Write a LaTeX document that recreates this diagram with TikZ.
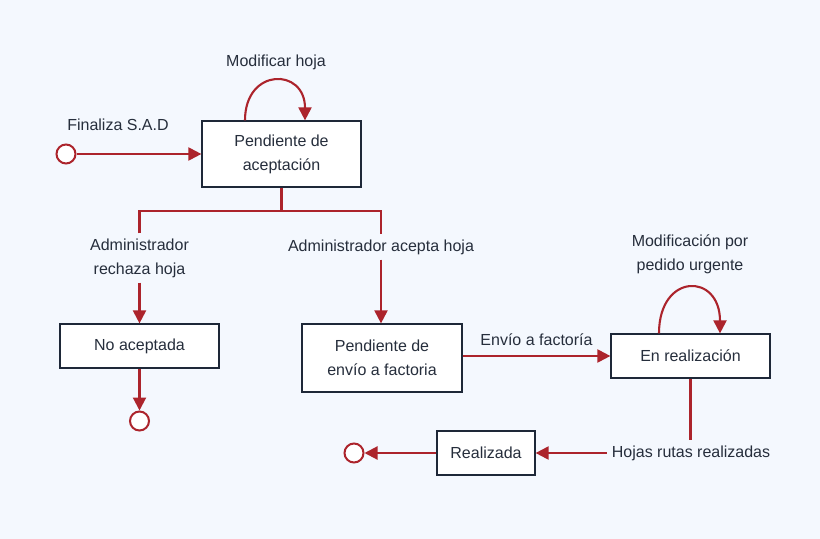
\documentclass[tikz,border=0pt]{standalone}
\usepackage{fontspec}
\setmainfont{Liberation Sans}
\usetikzlibrary{arrows.meta}
\definecolor{flowred}{RGB}{172,36,44}
\definecolor{boxline}{RGB}{30,40,56}
\definecolor{txtcol}{RGB}{38,46,60}
\definecolor{bgcol}{RGB}{244,248,254}
\begin{document}
\begin{tikzpicture}[x=1bp,y=-1bp,
  every node/.style={font=\fontsize{16bp}{24bp}\selectfont,text=txtcol},
  state/.style={draw=boxline,line width=1.2bp,fill=white,minimum width=159bp,
    minimum height=44bp,align=center,inner sep=4bp},
  pseudo/.style={circle,draw=flowred,line width=2bp,fill=white,minimum size=19bp,inner sep=0pt},
  line/.style={draw=flowred,line width=2.1bp},
  flow/.style={line,-{Triangle[length=13bp,width=13bp]}},
  lbl/.style={align=center,inner sep=5bp}]
  % Background
  \fill[bgcol] (0,0) rectangle (820,539);
  \useasboundingbox (0,0) rectangle (820,539);
  % States
  \node[state,minimum height=66bp] (pend) at (281.5,154) {Pendiente de\\aceptación};
  \node[state] (noacc) at (139.5,346) {No aceptada};
  \node[state,minimum width=160bp,minimum height=68bp] (envio) at (382,358) {Pendiente de\\envío a factoria};
  \node[state] (enreal) at (690.5,356) {En realización};
  \node[state,minimum width=98bp] (realiz) at (486,453) {Realizada};
  % Start and end points
  \node[pseudo] (start) at (66,154) {};
  \node[pseudo] (endA) at (139.5,421) {};
  \node[pseudo] (endB) at (354,453) {};
  % Transition labels
  \node (finaliza) at (118,125) {Finaliza S.A.D};
  \node (modhoja) at (276,62) {Modificar hoja};
  \node[lbl] (rechaza) at (139.5,258) {Administrador\\rechaza hoja};
  \node[lbl] (acepta) at (381,247) {Administrador acepta hoja};
  \node[lbl] (urgente) at (690,254) {Modificación por\\pedido urgente};
  \node[lbl] (hojas) at (691,453) {Hojas rutas realizadas};
  % Transitions
  \draw[flow] (start) -- (pend);
  \draw[flow] ([xshift=-36.5bp]pend.north) .. controls +(0,-53) and +(0,-53) .. ([xshift=23.5bp]pend.north);
  \draw[line] (pend.south) -- ++(0,23) coordinate (fork);
  \draw[line] (rechaza.north) |- (fork) -| (acepta.north);
  \draw[flow] (rechaza.south) -- (rechaza.south |- noacc.north);
  \draw[flow] (acepta.south) -- (acepta.south |- envio.north);
  \draw[flow] (noacc.south) -- (endA);
  \draw[flow] (envio.east |- enreal.west) -- (enreal.west) node[midway,above=6bp] (envlbl) {Envío a factoría};
  \draw[flow] ([xshift=-31.5bp]enreal.north) .. controls +(0,-61) and +(0,-61) .. ([xshift=29.5bp]enreal.north);
  \draw[line] (enreal.south) -- (enreal.south |- hojas.north);
  \draw[flow] (hojas.west) -- (realiz.east);
  \draw[flow] (realiz.west) -- (endB);
\end{tikzpicture}
\end{document}
